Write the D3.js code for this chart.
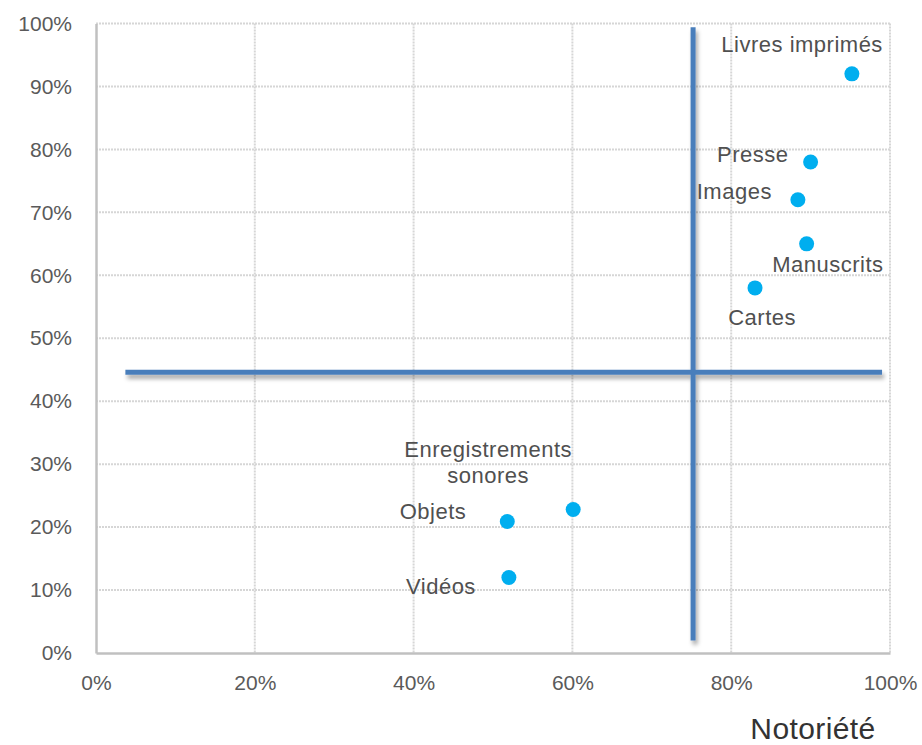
<!DOCTYPE html>
<html>
<head>
<meta charset="utf-8">
<script src="https://cdn.jsdelivr.net/npm/d3@7"></script>
<style>
  html, body { margin: 0; padding: 0; background: #fff; }
  svg { display: block; }
  text { font-family: "Liberation Sans", Arial, Helvetica, sans-serif; }
</style>
</head>
<body>
<svg id="chart" width="922" height="745"></svg>
<script>
// ---- data ----
const categories = ["Livres imprimés", "Presse", "Images", "Manuscrits", "Cartes", "Enregistrements sonores", "Objets", "Vidéos"];
const notoriete = [95.2, 90.0, 88.4, 89.5, 83.0, 60.1, 51.8, 52.0];
const usage = [92.0, 78.0, 72.0, 65.0, 58.0, 22.8, 20.9, 12.0];
const xTickValues = [0, 20, 40, 60, 80, 100];
const yTickValues = [0, 10, 20, 30, 40, 50, 60, 70, 80, 90, 100];
const xAxisTitle = "Notoriété";
// quadrant lines (data units)
const vLineX = 75.2, vLineY = [2.0, 99.4];
const hLineY = 44.6, hLineX = [3.7, 99.0];

// ---- label placement (pixel offsets from point) ----
const labelPlacement = [
  { dx: 31, dy: -22, anchor: "end", lines: ["Livres imprimés"] },
  { dx: -22, dy: 0, anchor: "end", lines: ["Presse"] },
  { dx: -26, dy: -1, anchor: "end", lines: ["Images"] },
  { dx: 77, dy: 28, anchor: "end", lines: ["Manuscrits"] },
  { dx: 41, dy: 37, anchor: "end", lines: ["Cartes"] },
  { dx: -85, dy: -52.6, anchor: "middle", lines: ["Enregistrements", "sonores"] },
  { dx: -41, dy: -2, anchor: "end", lines: ["Objets"] },
  { dx: -33, dy: 17, anchor: "end", lines: ["Vidéos"] }
];

const svg = d3.select("#chart");
const mLeft = 96, mRight = 890, mTop = 23.5, mBottom = 653;
const x = d3.scaleLinear().domain([0, 100]).range([mLeft, mRight]);
const y = d3.scaleLinear().domain([0, 100]).range([mBottom, mTop]);

const defs = svg.append("defs");
const f = defs.append("filter").attr("id", "shadow").attr("filterUnits", "userSpaceOnUse")
  .attr("x", 0).attr("y", 0).attr("width", 922).attr("height", 745);
f.append("feDropShadow").attr("dx", 2).attr("dy", 4).attr("stdDeviation", 2.2)
  .attr("flood-color", "#000").attr("flood-opacity", 0.35);

// grid
const grid = svg.append("g");
grid.selectAll("line.gx").data(xTickValues.filter(d => d > 0)).join("line")
  .attr("x1", d => x(d)).attr("x2", d => x(d)).attr("y1", mTop).attr("y2", mBottom)
  .attr("stroke", "#d6d6d6").attr("stroke-width", 2).attr("stroke-dasharray", "2,1");
grid.selectAll("line.gy").data(yTickValues.filter(d => d > 0)).join("line")
  .attr("y1", d => y(d)).attr("y2", d => y(d)).attr("x1", mLeft).attr("x2", mRight)
  .attr("stroke", "#d6d6d6").attr("stroke-width", 2).attr("stroke-dasharray", "2,1");

// axes
const xAxis = d3.axisBottom(x).tickValues(xTickValues).tickFormat(d => d + "%").tickSize(0).tickPadding(22);
const yAxis = d3.axisLeft(y).tickValues(yTickValues).tickFormat(d => d + "%").tickSize(0).tickPadding(24);
const gx = svg.append("g").attr("transform", `translate(0,${mBottom})`).call(xAxis);
const gy = svg.append("g").attr("transform", `translate(${mLeft},0)`).call(yAxis);
[gx, gy].forEach(g => {
  g.select(".domain").attr("stroke", "#c0c0c0").attr("stroke-width", 2.5);
  g.selectAll("text").attr("font-size", 21).attr("fill", "#5a5a5a")
    .attr("font-family", "'Liberation Sans', Arial, sans-serif");
});
gx.selectAll("text").attr("dy", "0.71em");

// x axis title
svg.append("text").attr("x", 813).attr("y", 739).attr("text-anchor", "middle")
  .attr("font-size", 30).attr("letter-spacing", 0.4).attr("fill", "#333").text(xAxisTitle);

// quadrant lines
const q = svg.append("g").attr("filter", "url(#shadow)");
q.append("line").attr("x1", x(vLineX)).attr("x2", x(vLineX)).attr("y1", y(vLineY[1])).attr("y2", y(vLineY[0]))
  .attr("stroke", "#4a7ebb").attr("stroke-width", 5);
q.append("line").attr("x1", x(hLineX[0])).attr("x2", x(hLineX[1])).attr("y1", y(hLineY)).attr("y2", y(hLineY))
  .attr("stroke", "#4a7ebb").attr("stroke-width", 5);

// points
const data = categories.map((c, i) => ({ c, nx: notoriete[i], uy: usage[i], p: labelPlacement[i] }));
svg.append("g").selectAll("circle").data(data).join("circle")
  .attr("cx", d => x(d.nx)).attr("cy", d => y(d.uy)).attr("r", 7.5).attr("fill", "#00aeef");

// labels
const lg = svg.append("g");
data.forEach(d => {
  const t = lg.append("text").attr("text-anchor", d.p.anchor)
    .attr("font-size", 22).attr("fill", "#505050").attr("letter-spacing", 0.5);
  d.p.lines.forEach((ln, k) => {
    t.append("tspan").attr("x", x(d.nx) + d.p.dx).attr("y", y(d.uy) + d.p.dy + k * 26.3).text(ln);
  });
});
</script>
</body>
</html>
